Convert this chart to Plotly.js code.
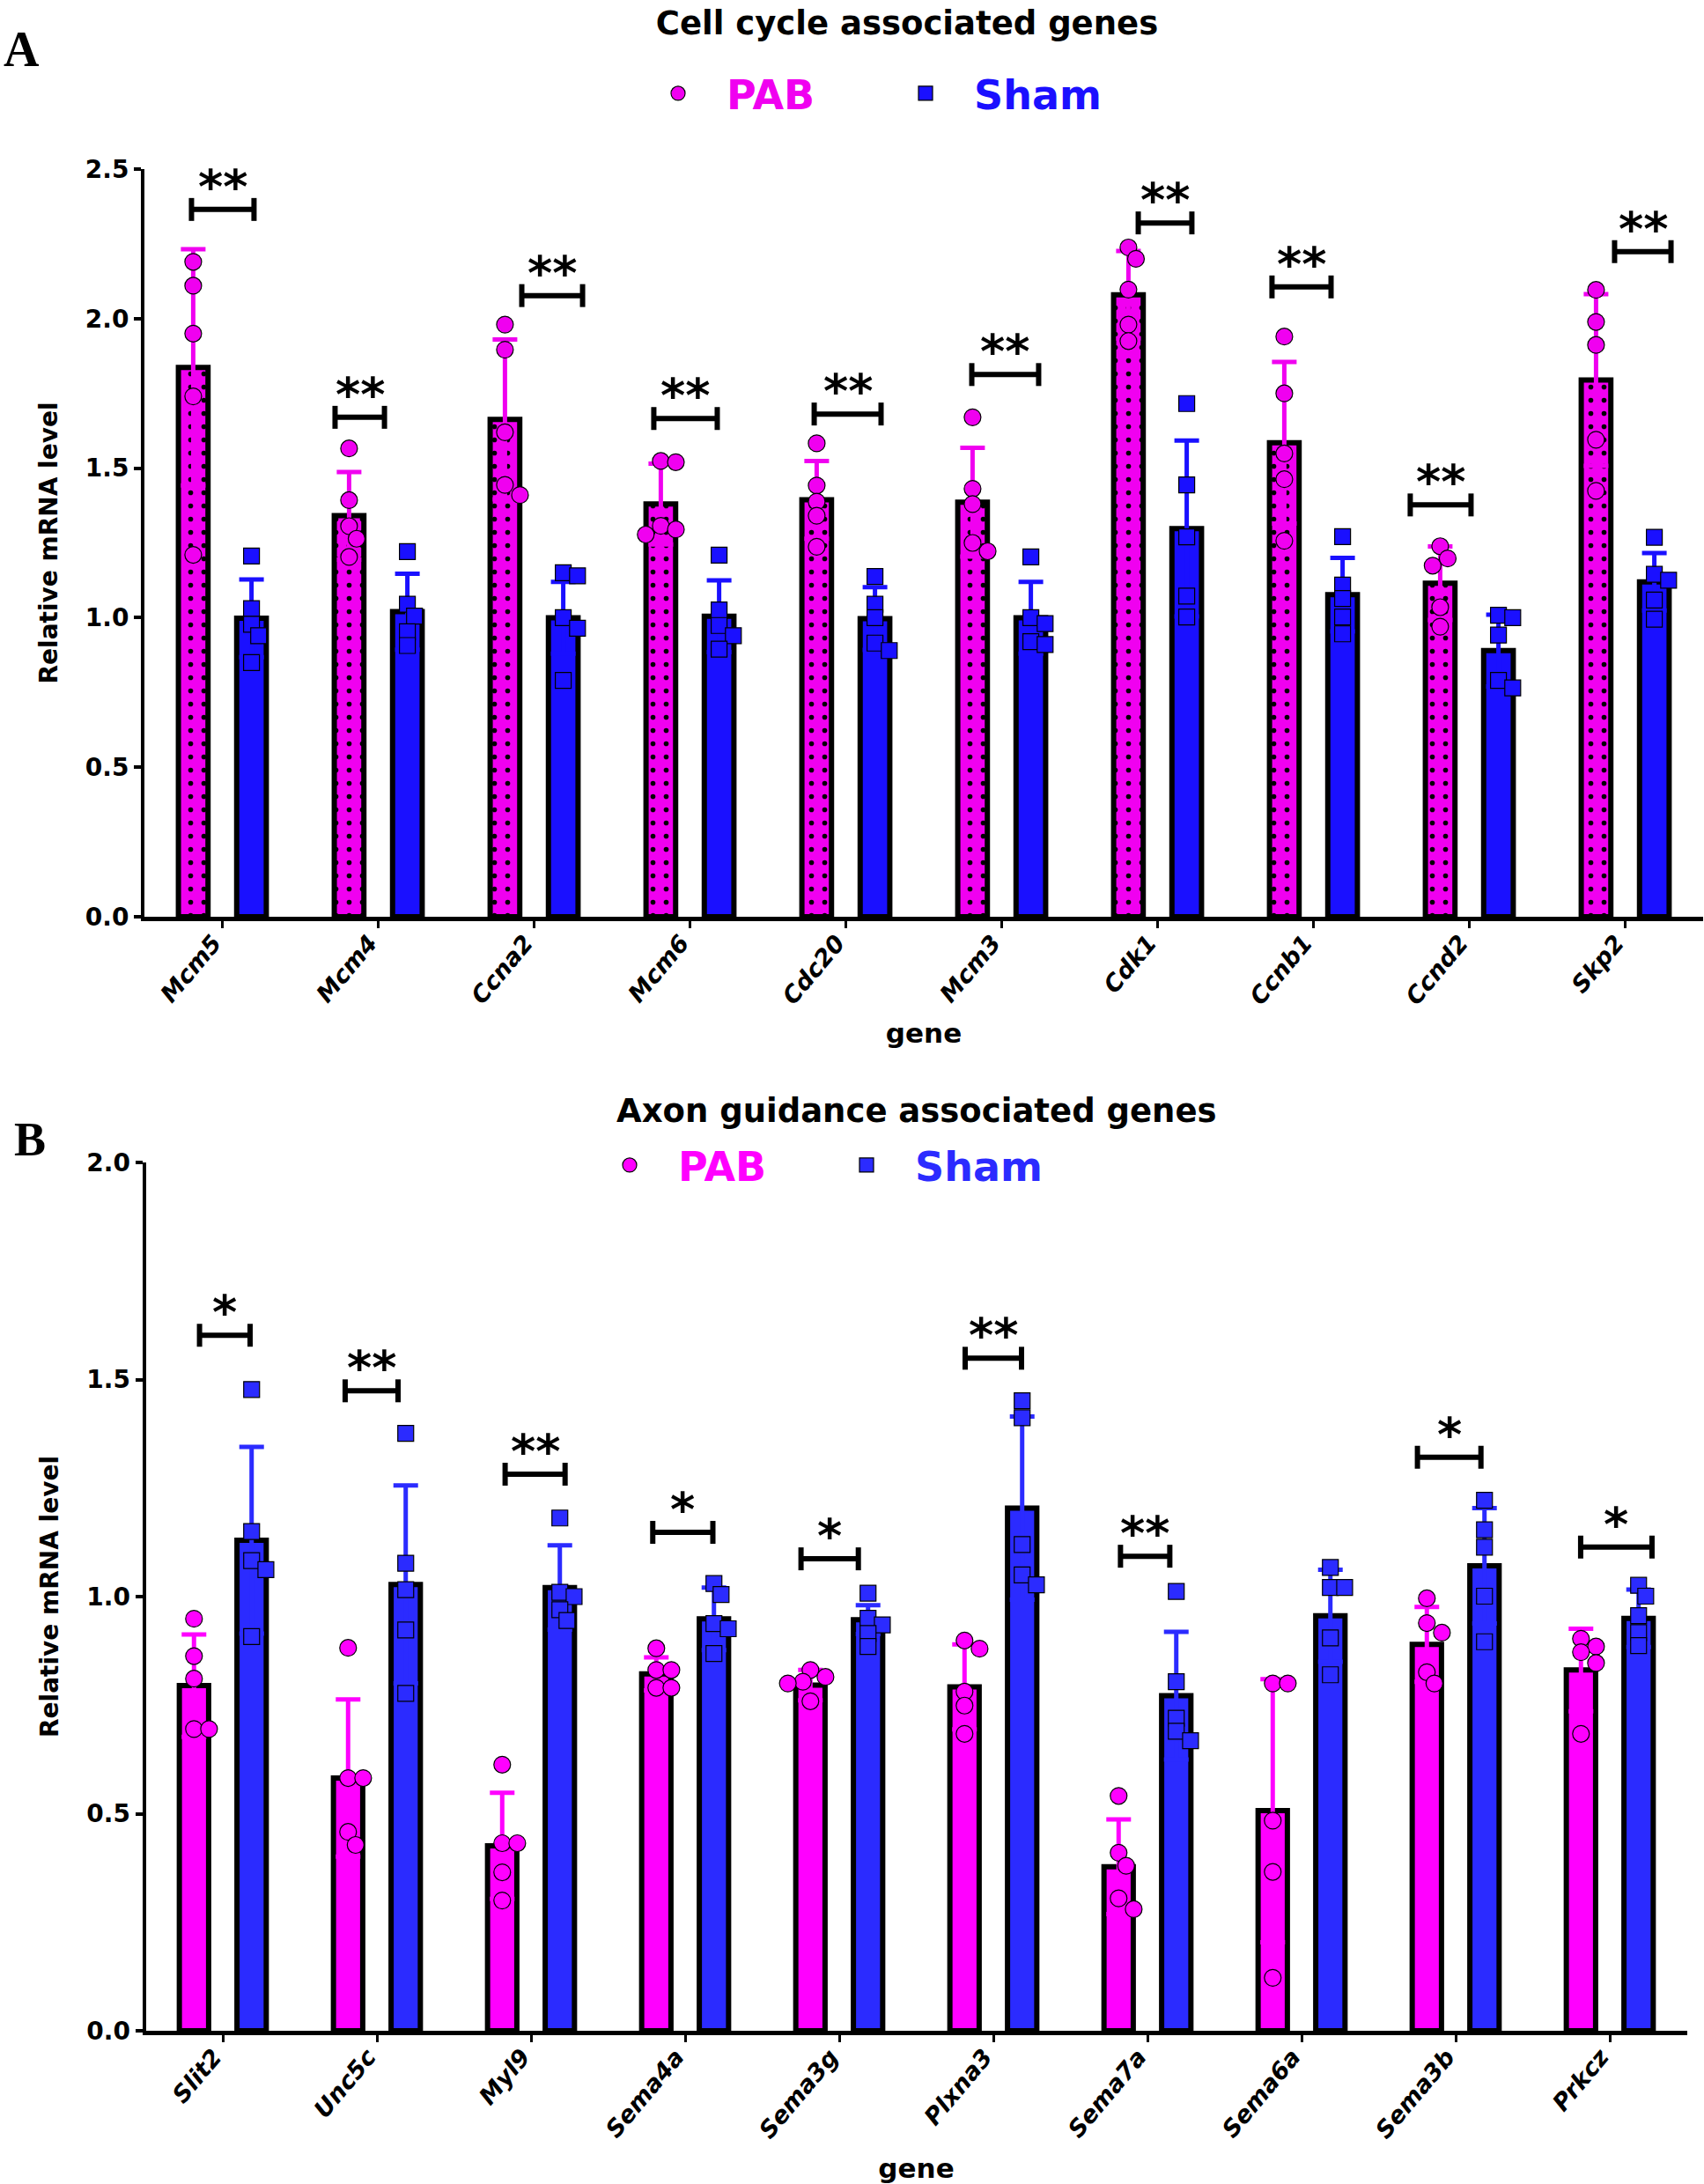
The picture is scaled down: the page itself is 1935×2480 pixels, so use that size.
<!DOCTYPE html>
<html><head><meta charset="utf-8">
<script src="https://cdn.plot.ly/plotly-3.0.1.min.js"></script>
<style>html,body{margin:0;padding:0;background:#fff}#chart{width:1935px;height:2480px}</style>
</head><body><div id="chart"></div>
<script>
// ---------------- Panel A data: cell cycle associated genes ----------------
const genesA = ['Mcm5','Mcm4','Ccna2','Mcm6','Cdc20','Mcm3','Cdk1','Ccnb1','Ccnd2','Skp2'];
const pabMeanA  = [1.837,1.341,1.663,1.380,1.394,1.386,2.080,1.585,1.115,1.795];
const pabSdA    = [0.395,0.146,0.267,0.135,0.130,0.182,0.146,0.270,0.123,0.287];
const shamMeanA = [0.998,1.020,1.000,1.005,0.997,1.000,1.298,1.077,0.890,1.120];
const shamSdA   = [0.130,0.127,0.120,0.120,0.105,0.120,0.294,0.123,0.120,0.096];
const pabPtsA = [
  [2.19,2.11,1.95,1.74,1.21],[1.566,1.393,1.306,1.264,1.203],[1.98,1.896,1.62,1.444,1.41],
  [1.524,1.52,1.307,1.295,1.278],[1.583,1.442,1.388,1.341,1.237],[1.67,1.431,1.38,1.25,1.222],
  [2.238,2.2,2.097,1.98,1.925],[1.94,1.75,1.549,1.463,1.257],[1.239,1.198,1.174,1.035,0.97],
  [2.096,1.989,1.912,1.595,1.424]];
const shamPtsA = [
  [1.206,1.03,0.978,0.94,0.85],[1.221,1.045,1.005,0.953,0.907],[1.15,1.14,1.0,0.965,0.79],
  [1.209,1.026,0.974,0.94,0.895],[1.138,1.045,1.0,0.915,0.89],[1.203,1.0,0.98,0.92,0.91],
  [1.716,1.444,1.27,1.072,1.002],[1.271,1.109,1.064,1.002,0.946],[1.008,1.0,0.942,0.79,0.765],
  [1.269,1.145,1.125,1.059,0.995]];
const sigLabelA = ['**','**','**','**','**','**','**','**','**','**'];
const sigYA     = [2.365,1.670,2.077,1.666,1.681,1.813,2.320,2.106,1.377,2.224];
const sigFromA  = [-0.198,-0.277,-0.079,-0.232,-0.203,-0.192,-0.124,-0.266,-0.379,-0.068];
const sigToA    = [0.203,0.040,0.311,0.175,0.226,0.237,0.220,0.113,0.011,0.294];

// ---------------- Panel B data: axon guidance associated genes ----------------
const genesB = ['Slit2','Unc5c','Myl9','Sema4a','Sema3g','Plxna3','Sema7a','Sema6a','Sema3b','Prkcz'];
const pabMeanB  = [0.795,0.582,0.426,0.822,0.796,0.792,0.378,0.507,0.890,0.831];
const pabSdB    = [0.118,0.181,0.122,0.038,0.035,0.098,0.109,0.303,0.086,0.095];
const shamMeanB = [1.130,1.028,1.021,0.949,0.947,1.204,0.772,0.956,1.071,0.950];
const shamSdB   = [0.215,0.228,0.097,0.072,0.033,0.211,0.147,0.106,0.133,0.066];
const pabPtsB = [
  [0.949,0.863,0.811,0.695,0.695],[0.882,0.582,0.582,0.458,0.428],[0.613,0.432,0.432,0.365,0.30],
  [0.881,0.831,0.831,0.79,0.79],[0.831,0.815,0.804,0.80,0.759],[0.899,0.88,0.781,0.749,0.684],
  [0.541,0.41,0.38,0.305,0.28],[0.80,0.80,0.484,0.366,0.122],[0.996,0.939,0.917,0.826,0.80],
  [0.903,0.885,0.872,0.847,0.684]];
const shamPtsB = [
  [1.477,1.15,1.083,1.062,0.908],[1.376,1.077,1.016,0.923,0.777],[1.181,1.01,1.0,0.97,0.945],
  [1.03,1.005,0.938,0.926,0.869],[1.008,0.95,0.935,0.915,0.885],[1.451,1.412,1.12,1.05,1.027],
  [1.012,0.804,0.72,0.69,0.668],[1.067,1.021,1.021,0.905,0.82],[1.222,1.154,1.114,1.001,0.896],
  [1.026,1.001,0.956,0.917,0.887]];
const sigLabelB = ['*','**','**','*','*','**','**','','*','*'];
const sigYB     = [1.602,1.474,1.282,1.148,1.087,1.549,1.093,null,1.321,1.114];
const sigFromB  = [-0.151,-0.206,-0.168,-0.210,-0.248,-0.183,-0.175,null,-0.248,-0.189];
const sigToB    = [0.177,0.137,0.221,0.180,0.124,0.183,0.145,null,0.164,0.274];

// ---------------- styling / layout constants ----------------
const W = 1935, H = 2480;
const FONT = 'DejaVu Sans, Liberation Sans, Arial, sans-serif';
const PINK_A = '#f000f0', BLUE_A = '#1a10ff';
const PINK_B = '#ff00ff', BLUE_B = '#2b2bff';
const BW = 0.19, GS = 0.187, MS = 19;
const dom = {
  A: {x:[164/W, 1934/W], y:[1-1041/H, 1-192/H], yr:[0,2.5]},
  B: {x:[165.5/W, 1915.5/W], y:[1-2306/H, 1-1320/H], yr:[0,2.0]}
};

function swarm(vals, pxY, pxX, d) {
  const order = vals.map((v,i)=>i).sort((a,b)=>vals[b]-vals[a]);
  const placed = [], off = new Array(vals.length).fill(0);
  for (const i of order) {
    const y = vals[i]*pxY; let dx = 0;
    for (let k=0;k<30;k++) {
      dx = k===0 ? 0 : (k%2 ? 1 : -1)*Math.ceil(k/2)*d*0.45;
      if (placed.every(p => Math.hypot(p.x-dx, p.y-y) >= d*0.8)) break;
    }
    placed.push({x:dx, y}); off[i] = dx/pxX;
  }
  return off;
}

function panelTraces(genes, pMean, pSd, sMean, sSd, pPts, sPts, pink, blue, D, xa, ya, leg, pattern) {
  const pxX = W*(D.x[1]-D.x[0])/genes.length;
  const pxY = H*(D.y[1]-D.y[0])/(D.yr[1]-D.yr[0]);
  const idx = genes.map((g,i)=>i);
  const pinkMarker = {color: pink, line:{color:'black', width:6}};
  if (pattern) pinkMarker.pattern = {shape:'.', fgcolor:'black', bgcolor:pink, size:15, solidity:0.11, fillmode:'replace'};
  const traces = [
    {type:'bar', x:idx, y:pMean, width:BW, offset:-GS-BW/2, marker:pinkMarker,
     error_y:{type:'data', array:pSd, visible:true, color:pink, thickness:5, width:14},
     showlegend:false, hoverinfo:'skip', xaxis:xa, yaxis:ya},
    {type:'bar', x:idx, y:sMean, width:BW, offset:GS-BW/2, marker:{color:blue, line:{color:'black', width:6}},
     error_y:{type:'data', array:sSd, visible:true, color:blue, thickness:5, width:14},
     showlegend:false, hoverinfo:'skip', xaxis:xa, yaxis:ya}
  ];
  function pts(list, shift, name, color, symbol, size) {
    const xs=[], ys=[];
    list.forEach((p,i)=>{ const o = swarm(p, pxY, pxX, size); p.forEach((v,j)=>{ xs.push(i+shift+o[j]); ys.push(v); }); });
    return {type:'scatter', mode:'markers', x:xs, y:ys, name:name, legend:leg, xaxis:xa, yaxis:ya,
            marker:{color:color, symbol:symbol, size:size, line:{color:'black', width:1.2}}, hoverinfo:'skip'};
  }
  traces.push(pts(pPts, -GS, '<span style="color:'+pink+'">PAB</span>', pink, 'circle', MS));
  traces.push(pts(sPts, GS, '<span style="color:'+blue+'">Sham</span>', blue, 'square', MS-1));
  return traces;
}

function brackets(labels, ys, from, to, xr, yr) {
  const shapes = [], anns = [];
  labels.forEach((lab,i)=>{
    if (!lab) return;
    const x0 = i+from[i], x1 = i+to[i], y = ys[i];
    const ln = {color:'black', width:6};
    shapes.push({type:'line', xref:xr, yref:yr, x0:x0, x1:x1, y0:y, y1:y, line:ln});
    shapes.push({type:'line', xref:xr, yref:yr, x0:x0, x1:x0, ysizemode:'pixel', yanchor:y, y0:-13, y1:13, line:ln});
    shapes.push({type:'line', xref:xr, yref:yr, x0:x1, x1:x1, ysizemode:'pixel', yanchor:y, y0:-13, y1:13, line:ln});
    anns.push({xref:xr, yref:yr, x:(x0+x1)/2, y:y, text:lab, showarrow:false, yanchor:'bottom', yshift:-8,
               font:{family:FONT, size:54, color:'black', weight:'bold'}});
  });
  return {shapes, anns};
}

const data = [].concat(
  panelTraces(genesA, pabMeanA, pabSdA, shamMeanA, shamSdA, pabPtsA, shamPtsA, PINK_A, BLUE_A, dom.A, 'x', 'y', 'legend', true),
  panelTraces(genesB, pabMeanB, pabSdB, shamMeanB, shamSdB, pabPtsB, shamPtsB, PINK_B, BLUE_B, dom.B, 'x2', 'y2', 'legend2', false)
);

const bA = brackets(sigLabelA, sigYA, sigFromA, sigToA, 'x', 'y');
const bB = brackets(sigLabelB, sigYB, sigFromB, sigToB, 'x2', 'y2');

const tickFontY = {family:FONT, size:28, color:'black', weight:'bold'};
const tickFontX = {family:FONT, size:27, color:'black', weight:'bold', style:'italic'};
const titleFont = {family:FONT, size:28, color:'black', weight:'bold'};
function xAxis(D, genes, anchor, standoff) {
  return {domain:D.x, anchor:anchor, type:'linear', range:[-0.5, genes.length-0.5],
    tickmode:'array', tickvals:genes.map((g,i)=>i), ticktext:genes, tickangle:-50,
    ticklabelstandoff:-10, ticklabelshift:-10,
    tickfont:tickFontX, ticks:'outside', ticklen:8, tickwidth:3, tickcolor:'black',
    showline:true, linecolor:'black', linewidth:5, showgrid:false, zeroline:false,
    title:{text:'gene', font:{family:FONT, size:31, color:'black', weight:'bold'}, standoff:standoff}};
}
function yAxis(D, anchor) {
  return {domain:D.y, anchor:anchor, range:D.yr, dtick:0.5, tick0:0, tickformat:'.1f',
    tickfont:tickFontY, ticks:'outside', ticklen:8, tickwidth:4, tickcolor:'black',
    showline:true, linecolor:'black', linewidth:4, showgrid:false, zeroline:false,
    title:{text:'Relative mRNA level', font:titleFont, standoff:24}};
}
const legendBase = {orientation:'h', xanchor:'left', yanchor:'middle', itemwidth:100, bgcolor:'rgba(0,0,0,0)',
  font:{family:FONT, size:46, color:'black', weight:'bold'}, itemclick:false, itemdoubleclick:false};

const layout = {
  width:W, height:H, margin:{l:0, r:0, t:0, b:0}, paper_bgcolor:'white', plot_bgcolor:'white',
  barmode:'overlay', showlegend:true,
  title:{text:'Cell cycle associated genes', xref:'paper', yref:'container', x:1030/W, xanchor:'center',
         y:1-26/H, yanchor:'middle', font:{family:FONT, size:37, color:'black', weight:'bold'}},
  xaxis:xAxis(dom.A, genesA, 'y', 18), yaxis:yAxis(dom.A, 'x'),
  xaxis2:xAxis(dom.B, genesB, 'y2', 24), yaxis2:yAxis(dom.B, 'x2'),
  legend:Object.assign({}, legendBase, {x:715/W, y:1-106/H, entrywidth:166}),
  legend2:Object.assign({}, legendBase, {x:660/W, y:1-1323/H, entrywidth:154}),
  shapes:bA.shapes.concat(bB.shapes),
  annotations:bA.anns.concat(bB.anns).concat([
    {xref:'paper', yref:'paper', x:1041/W, y:1-1261/H, xanchor:'center', yanchor:'middle', showarrow:false,
     text:'Axon guidance associated genes', font:{family:FONT, size:37, color:'black', weight:'bold'}},
    {xref:'paper', yref:'paper', x:2/W, y:1-56/H, xanchor:'left', yanchor:'middle', showarrow:false,
     text:'A', font:{family:'Liberation Serif, Times New Roman, serif', size:56, color:'black', weight:'bold'}},
    {xref:'paper', yref:'paper', x:14/W, y:1-1294/H, xanchor:'left', yanchor:'middle', showarrow:false,
     text:'B', font:{family:'Liberation Serif, Times New Roman, serif', size:54, color:'black', weight:'bold'}}
  ])
};

Plotly.newPlot('chart', data, layout, {displayModeBar:false, responsive:false});
</script>
</body></html>
